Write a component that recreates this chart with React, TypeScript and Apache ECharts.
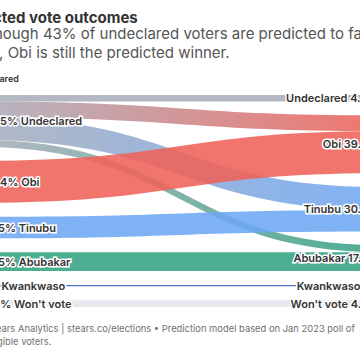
import React, { useEffect, useRef } from "react";
import * as echarts from "echarts";

const candidates = ["Undeclared", "Obi", "Tinubu", "Abubakar", "Kwankwaso", "Won't vote"];
const colors = ["#a9aebb", "#ef6258", "#6ea8f4", "#33a282", "#3a5cc8", "#e4e6ec"];
const leftPct = ["36.5", "29.4", "14.5", "12.5", "1", "4.6"];
const rightPct = ["4.4", "39.9", "30.5", "17.6", "1", "4.6"];
// [from (current), to (predicted), value %]
const flows: [number, number, number][] = [
  [0, 0, 4.4],
  [0, 1, 10.9],
  [0, 2, 15.7],
  [0, 3, 4.8],
  [1, 1, 29.0],
  [2, 2, 14.8],
  [3, 3, 12.8],
  [4, 4, 1.0],
  [5, 5, 4.6],
];
const titleText = "Predicted vote outcomes";
const subtitleLines = [
  "Even though 43% of undeclared voters are predicted to favour",
  "Tinubu, Obi is still the predicted winner.",
];
const headerText = "Declared";
const footerLines = [
  "Stears Analytics | stears.co/elections \u2022 Prediction model based on Jan 2023 poll of",
  "eligible voters.",
];

const FONT = "Inter, 'Noto Sans', sans-serif";

export default function App() {
  const ref = useRef<HTMLDivElement>(null);
  useEffect(() => {
    if (!ref.current) return;
    const chart = echarts.init(ref.current, undefined, { renderer: "svg" });
    const nodes = [
      ...candidates.map((c, i) => ({
        name: "L" + i,
        itemStyle: { color: colors[i] },
        label: { position: "right" },
      })),
      ...candidates.map((c, i) => ({
        name: "R" + i,
        itemStyle: { color: colors[i] },
        label: { position: "left" },
      })),
    ];
    const links = flows.map(([s, t, v]) => ({ source: "L" + s, target: "R" + t, value: v }));
    chart.setOption({
      animation: false,
      backgroundColor: "#fff",
      graphic: [
        {
          type: "text",
          x: 15,
          y: 17,
          style: {
            text: titleText,
            font: `700 15px ${FONT}`,
            fill: "#333",
            textVerticalAlign: "middle",
          },
        },
        ...subtitleLines.map((t, i) => ({
          type: "text",
          x: 10,
          y: 33 + i * 19,
          style: { text: t, font: `400 15px ${FONT}`, fill: "#555", textVerticalAlign: "middle" },
        })),
        {
          type: "text",
          x: 40,
          y: 78,
          style: { text: headerText, font: `600 9px ${FONT}`, fill: "#333", textVerticalAlign: "middle" },
        },
        ...footerLines.map((t, i) => ({
          type: "text",
          x: 47,
          y: 328 + i * 13,
          style: { text: t, font: `400 9.4px ${FONT}`, fill: "#6f6f6f", textVerticalAlign: "middle" },
        })),
      ],
      series: [
        {
          type: "sankey",
          left: 34,
          right: 32,
          top: 95,
          bottom: 53,
          nodeWidth: 4,
          nodeGap: 14,
          layoutIterations: 0,
          draggable: false,
          silent: true,
          emphasis: { disabled: true },
          data: nodes,
          links,
          itemStyle: { borderWidth: 0 },
          lineStyle: { color: "gradient", opacity: 0.88, curveness: 0.5 },
          label: {
            show: true,
            fontFamily: FONT,
            fontSize: 11,
            fontWeight: 600,
            color: "#333",
            textBorderColor: "#fff",
            textBorderWidth: 3,
            distance: 5,
            formatter: (p: any) => {
              const idx = p.dataIndex;
              if (idx < candidates.length) {
                return `${leftPct[idx]}% ${candidates[idx]}`;
              }
              const j = idx - candidates.length;
              return `${candidates[j]} ${rightPct[j]}%`;
            },
          },
        },
      ],
    });
    return () => chart.dispose();
  }, []);
  return (
    <div
      style={{
        position: "fixed",
        left: 0,
        top: 0,
        width: 360,
        height: 360,
        overflow: "hidden",
        background: "#fff",
      }}
    >
      <div ref={ref} style={{ position: "absolute", left: -60, top: 0, width: 480, height: 360 }} />
    </div>
  );
}
